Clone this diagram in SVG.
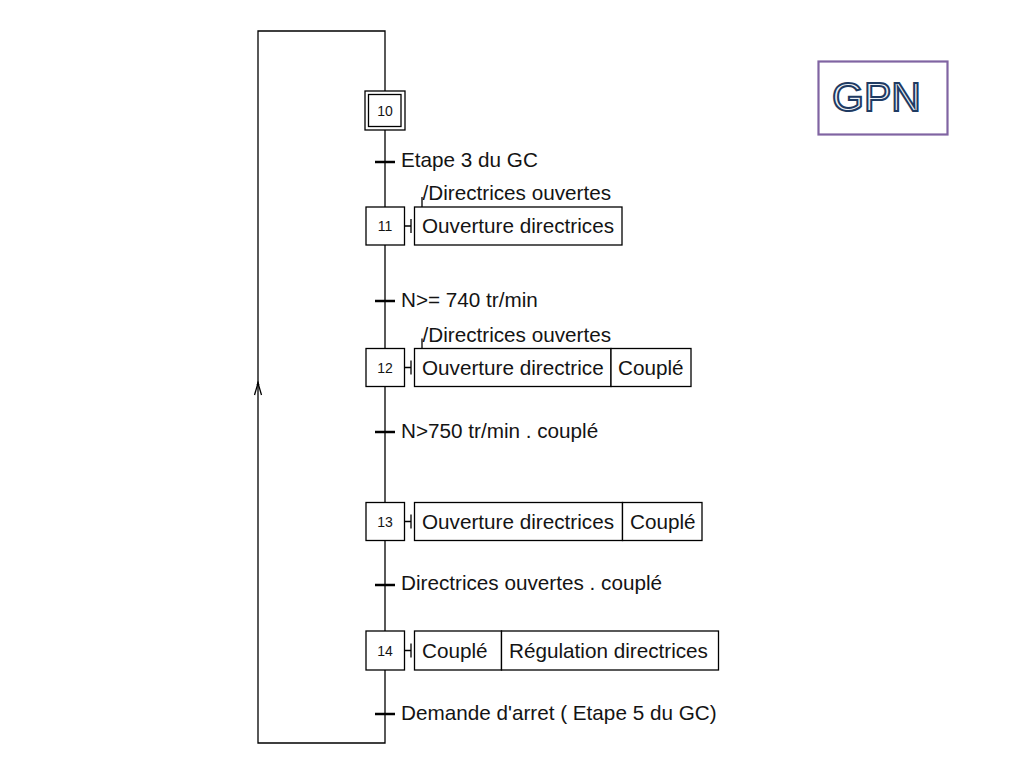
<svg xmlns="http://www.w3.org/2000/svg" width="1024" height="768" viewBox="0 0 1024 768">
<defs>
<style>
.ln{stroke:#000;stroke-width:1.3;fill:none}
.box{stroke:#000;stroke-width:1.3;fill:#fff}
.tr{stroke:#000;stroke-width:2.5}
.lbl{font-family:"Liberation Sans",Arial,sans-serif;font-size:20.7px;fill:#141414}
.num{font-family:"Liberation Sans",Arial,sans-serif;font-size:14px;fill:#141414;text-anchor:middle}
</style>
</defs>
<rect width="1024" height="768" fill="#fff"/>
<g id="connectors">
<path class="ln" d="M385,91 V31 H258 V743 H385 V129"/>
<path class="ln" d="M254.5,395 L258,383 L261.5,395" stroke-width="1.6"/>
<path d="M256.5,385 L258,381 L259.5,385 Z" fill="#000"/>
<line class="tr" x1="375" y1="162" x2="395" y2="162"/>
<text class="lbl" x="401" y="167">Etape 3 du GC</text>
<line class="tr" x1="375" y1="301" x2="395" y2="301"/>
<text class="lbl" x="401" y="307">N&gt;= 740 tr/min</text>
<line class="tr" x1="375" y1="432" x2="395" y2="432"/>
<text class="lbl" x="401" y="438">N&gt;750 tr/min . couplé</text>
<line class="tr" x1="375" y1="585" x2="395" y2="585"/>
<text class="lbl" x="401" y="590">Directrices ouvertes . couplé</text>
<line class="tr" x1="375" y1="714" x2="395" y2="714"/>
<text class="lbl" x="401" y="720">Demande d'arret ( Etape 5 du GC)</text>
</g>
<g id="step10">
<rect class="box" x="365" y="91" width="40" height="39"/>
<rect class="box" x="368.5" y="94.5" width="32.5" height="32"/>
<text class="num" x="385" y="116">10</text>
</g>
<g id="step11">
<rect class="box" x="366" y="207" width="38.5" height="38"/>
<text class="num" x="385" y="231">11</text>
<path class="ln" d="M404.5,226 H411 M411,219 V233"/>
<rect class="box" x="414.5" y="207" width="207.5" height="38"/>
<text class="lbl" x="422" y="233">Ouverture directrices</text>
<path class="ln" d="M422,197 V207"/>
<text class="lbl" x="422.5" y="200">/Directrices ouvertes</text>
</g>
<g id="step12">
<rect class="box" x="366" y="348.5" width="38.5" height="38"/>
<text class="num" x="385" y="372.5">12</text>
<path class="ln" d="M404.5,367.5 H411 M411,360.5 V374.5"/>
<rect class="box" x="414.5" y="348.5" width="196.5" height="38"/>
<rect class="box" x="611" y="348.5" width="80" height="38"/>
<text class="lbl" x="422" y="374.5">Ouverture directrice</text>
<text class="lbl" x="618" y="374.5">Couplé</text>
<path class="ln" d="M422,338.5 V348.5"/>
<text class="lbl" x="422.5" y="341.5">/Directrices ouvertes</text>
</g>
<g id="step13">
<rect class="box" x="366" y="502.5" width="38.5" height="38"/>
<text class="num" x="385" y="526.5">13</text>
<path class="ln" d="M404.5,521.5 H411 M411,514.5 V528.5"/>
<rect class="box" x="414.5" y="502.5" width="208" height="38"/>
<rect class="box" x="622.5" y="502.5" width="79.5" height="38"/>
<text class="lbl" x="422" y="528.5">Ouverture directrices</text>
<text class="lbl" x="630" y="528.5">Couplé</text>
</g>
<g id="step14">
<rect class="box" x="366" y="631" width="38.5" height="39"/>
<text class="num" x="385" y="655.5">14</text>
<path class="ln" d="M404.5,650.5 H411 M411,643.5 V657.5"/>
<rect class="box" x="414.5" y="631" width="87" height="39"/>
<rect class="box" x="501.5" y="631" width="217" height="39"/>
<text class="lbl" x="422" y="657.5">Couplé</text>
<text class="lbl" x="509" y="657.5">Régulation directrices</text>
</g>
<g id="gpn">
<rect x="818.5" y="61.5" width="129" height="73" fill="#fff" stroke="#8064a2" stroke-width="2.2"/>
<text x="876.5" y="111" text-anchor="middle" font-family="'Liberation Sans',Arial,sans-serif" font-size="41" fill="#eef3f8" stroke="#1f3b63" stroke-width="2">GPN</text>
</g>
</svg>
